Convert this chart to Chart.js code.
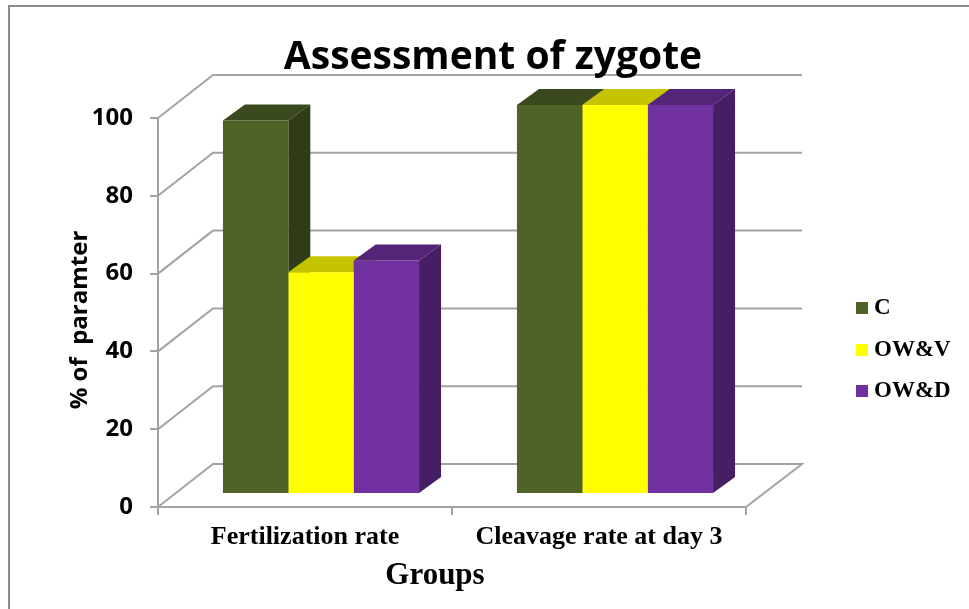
<!DOCTYPE html>
<html>
<head>
<meta charset="utf-8">
<title>Assessment of zygote</title>
<style>
    html, body { margin: 0; padding: 0; background: #fff; }
    canvas { display: block; }
</style>
<script src="https://cdn.jsdelivr.net/npm/chart.js@4"></script>
</head>
<body>
<canvas id="chart" width="969" height="609"></canvas>
<script>
    'use strict';

    var categories = ['Fertilization rate', 'Cleavage rate at day 3'];
    var seriesNames = ['C', 'OW&V', 'OW&D'];
    var valuesC = [96, 100];
    var valuesOWV = [57, 100];
    var valuesOWD = [60, 100];

    var frontColors = ['#4F6228', '#FFFF00', '#7030A0'];
    var topColors = ['#3B4A1E', '#C4C400', '#542478'];
    var sideColors = ['#303C18', '#A0A000', '#461E64'];

    var gridColor = '#A3A3A3';
    var sansFont = '"Open Sans", sans-serif';
    var serifFont = '"Liberation Serif", serif';

    // how far the back wall and the bars sit behind the axis plane
    var wallDepth = { x: 55, y: -43 };
    var barShift = { x: 16, y: -13 };
    var barDepth = { x: 22, y: -16 };

    function fillFace(ctx, points, color) {
        ctx.fillStyle = color;
        ctx.beginPath();
        ctx.moveTo(points[0][0], points[0][1]);
        for (var i = 1; i < points.length; i++) {
            ctx.lineTo(points[i][0], points[i][1]);
        }
        ctx.closePath();
        ctx.fill();
    }

    var threeD = {
        id: 'threeD',
        beforeDatasetsDraw: function (chart) {
            var ctx = chart.ctx;
            var area = chart.chartArea;
            var yScale = chart.scales.y;

            // walls, floor and grid lines
            ctx.save();
            ctx.strokeStyle = gridColor;
            ctx.lineWidth = 2;
            yScale.ticks.forEach(function (tick) {
                var y = yScale.getPixelForValue(tick.value);
                ctx.beginPath();
                ctx.moveTo(area.left, y);
                ctx.lineTo(area.left + wallDepth.x, y + wallDepth.y);
                ctx.lineTo(area.right + wallDepth.x + 1, y + wallDepth.y);
                if (tick.value === 0) {
                    ctx.lineTo(area.right, y);
                }
                ctx.stroke();
            });
            ctx.restore();

            // side and top of each bar, left to right
            ctx.save();
            ctx.translate(barShift.x, barShift.y);
            for (var c = 0; c < categories.length; c++) {
                for (var d = 0; d < chart.data.datasets.length; d++) {
                    var bar = chart.getDatasetMeta(d).data[c];
                    var l = bar.x - bar.width / 2;
                    var r = bar.x + bar.width / 2;
                    fillFace(ctx, [[l, bar.y], [l + barDepth.x, bar.y + barDepth.y],
                        [r + barDepth.x, bar.y + barDepth.y], [r, bar.y]], topColors[d]);
                    fillFace(ctx, [[r, bar.y], [r + barDepth.x, bar.y + barDepth.y],
                        [r + barDepth.x, bar.base + barDepth.y], [r, bar.base]], sideColors[d]);
                }
            }
            ctx.restore();

            // fronts are drawn by the library, moved onto the bar plane
            ctx.save();
            ctx.translate(barShift.x, barShift.y);
        },
        afterDatasetsDraw: function (chart) {
            chart.ctx.restore();
        },
        afterDraw: function (chart) {
            var ctx = chart.ctx;
            ctx.save();

            // picture frame
            ctx.strokeStyle = '#8C8C8C';
            ctx.lineWidth = 2;
            ctx.beginPath();
            ctx.moveTo(9, 609);
            ctx.lineTo(9, 6);
            ctx.lineTo(969, 6);
            ctx.stroke();

            ctx.fillStyle = '#000';
            ctx.textAlign = 'center';
            ctx.textBaseline = 'middle';

            ctx.font = 'bold 39px ' + sansFont;
            ctx.fillText('Assessment of zygote', 493, 58);

            ctx.font = 'bold 31px ' + serifFont;
            ctx.fillText('Groups', 435, 576);

            ctx.save();
            ctx.translate(80, 320);
            ctx.rotate(-Math.PI / 2);
            ctx.font = 'bold 24px ' + sansFont;
            ctx.fillText('% of  paramter', 0, 0);
            ctx.restore();

            // legend
            var legendY = [308, 350, 391];
            ctx.textAlign = 'left';
            ctx.font = 'bold 23px ' + serifFont;
            seriesNames.forEach(function (name, i) {
                ctx.fillStyle = frontColors[i];
                ctx.fillRect(856, legendY[i] - 6, 12, 12);
                ctx.fillStyle = '#000';
                ctx.fillText(name, 874, legendY[i]);
            });
            ctx.restore();
        }
    };

    new Chart(document.getElementById('chart'), {
        type: 'bar',
        data: {
            labels: categories,
            datasets: [
                { label: seriesNames[0], data: valuesC, backgroundColor: frontColors[0] },
                { label: seriesNames[1], data: valuesOWV, backgroundColor: frontColors[1] },
                { label: seriesNames[2], data: valuesOWD, backgroundColor: frontColors[2] }
            ]
        },
        plugins: [threeD],
        options: {
            responsive: false,
            animation: false,
            layout: { padding: { top: 118, right: 223, bottom: 0, left: 0 } },
            datasets: { bar: { categoryPercentage: 0.667, barPercentage: 1, clip: false } },
            plugins: {
                legend: { display: false },
                title: { display: false },
                tooltip: { enabled: false }
            },
            scales: {
                x: {
                    afterFit: function (scale) { scale.height = 102; },
                    grid: { drawOnChartArea: false, color: gridColor, lineWidth: 2, tickLength: 8 },
                    border: { color: gridColor, width: 2 },
                    ticks: {
                        color: '#000',
                        padding: 7,
                        maxRotation: 0,
                        font: { family: serifFont, weight: 'bold', size: 26 }
                    }
                },
                y: {
                    min: 0,
                    max: 100,
                    afterFit: function (scale) { scale.width = 158; },
                    grid: { drawOnChartArea: false, color: gridColor, lineWidth: 2, tickLength: 8 },
                    border: { color: gridColor, width: 2 },
                    ticks: {
                        stepSize: 20,
                        color: '#000',
                        padding: 17,
                        font: { family: sansFont, weight: 'bold', size: 24 }
                    }
                }
            }
        }
    });
</script>
</body>
</html>
